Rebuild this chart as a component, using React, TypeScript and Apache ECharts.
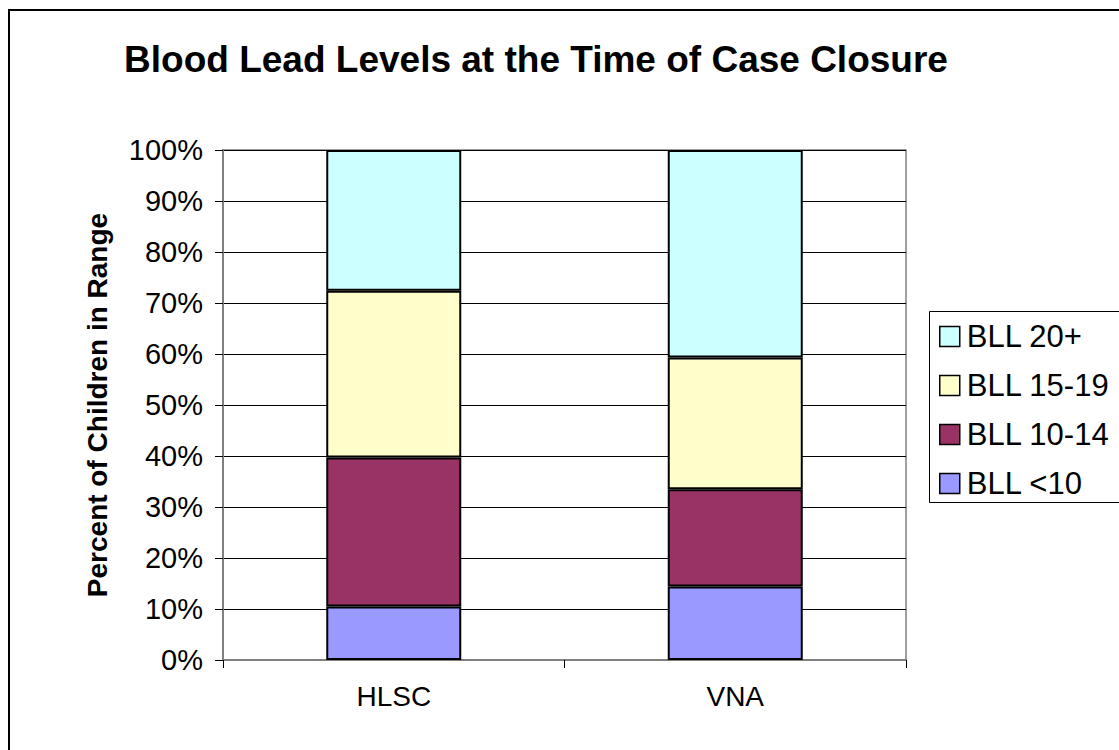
import React, { useEffect, useRef } from "react";
import * as echarts from "echarts";

const categories = ["HLSC", "VNA"];
const seriesNames = ["BLL <10", "BLL 10-14", "BLL 15-19", "BLL 20+"];
const bllUnder10 = [10.5, 14.4];
const bll10to14 = [29.2, 19.1];
const bll15to19 = [32.7, 25.8];
const bll20plus = [27.6, 40.7];
const seriesColors = ["#9999FF", "#993366", "#FFFFCC", "#CCFFFF"];
const legendOrder = ["BLL 20+", "BLL 15-19", "BLL 10-14", "BLL <10"];

const FONT = "'Liberation Sans', Arial, sans-serif";

export default function App() {
  const ref = useRef<HTMLDivElement>(null);
  useEffect(() => {
    if (!ref.current) return;
    const chart = echarts.init(ref.current, null, { renderer: "svg" });
    const values = [bllUnder10, bll10to14, bll15to19, bll20plus];
    chart.setOption({
      animation: false,
      backgroundColor: "#ffffff",
      textStyle: { fontFamily: FONT },
      graphic: [
        {
          type: "rect",
          shape: { x: 9, y: 10, width: 1200, height: 800 },
          style: { fill: "none", stroke: "#000", lineWidth: 2 },
          silent: true,
        },
        {
          type: "rect",
          shape: { x: 929.5, y: 311.5, width: 300, height: 191 },
          style: { fill: "#fff", stroke: "#000", lineWidth: 1 },
          silent: true,
          z: -1,
        },
        {
          type: "text",
          x: 536,
          y: 59,
          style: {
            text: "Blood Lead Levels at the Time of Case Closure",
            font: `bold 37px ${FONT}`,
            fill: "#000",
            textAlign: "center",
            textVerticalAlign: "middle",
          },
        },
      ],
      legend: {
        orient: "vertical",
        left: 939,
        top: 321,
        data: legendOrder,
        icon: "rect",
        itemWidth: 20,
        itemHeight: 20,
        itemGap: 18,
        padding: 0,
        textStyle: { fontSize: 31, color: "#000", fontFamily: FONT, lineHeight: 30, padding: [0, 0, 0, 2] },
        itemStyle: { borderColor: "#000", borderWidth: 1.5 },
      },
      grid: {
        left: 223,
        right: 213,
        top: 150,
        bottom: 90,
        show: true,
        borderColor: "#808080",
        borderWidth: 1.5,
        containLabel: false,
      },
      xAxis: {
        type: "category",
        data: categories,
        axisLine: { show: true, lineStyle: { color: "#808080", width: 2 } },
        axisTick: { show: true, length: 8, lineStyle: { color: "#000", width: 1 } },
        axisLabel: { fontSize: 28, color: "#000", margin: 22, fontFamily: FONT },
      },
      yAxis: {
        type: "value",
        min: 0,
        max: 100,
        interval: 10,
        name: "Percent of Children in Range",
        nameLocation: "middle",
        nameGap: 112,
        nameTextStyle: { fontSize: 28, fontWeight: "bold", color: "#000", fontFamily: FONT },
        axisLine: { show: true, lineStyle: { color: "#808080", width: 2 } },
        axisTick: { show: true, length: 8, lineStyle: { color: "#000", width: 1 } },
        axisLabel: { fontSize: 29, color: "#000", margin: 20, formatter: "{value}%", fontFamily: FONT },
        splitLine: { show: true, lineStyle: { color: "#000", width: 1 } },
      },
      series: seriesNames.map((name, i) => ({
        name,
        type: "bar",
        stack: "total",
        barWidth: 135,
        data: values[i],
        itemStyle: { color: seriesColors[i], borderColor: "#000", borderWidth: 2 },
      })),
    });
    return () => chart.dispose();
  }, []);
  return (
    <div
      ref={ref}
      style={{ position: "fixed", left: 0, top: 0, width: 1119, height: 750 }}
    />
  );
}
